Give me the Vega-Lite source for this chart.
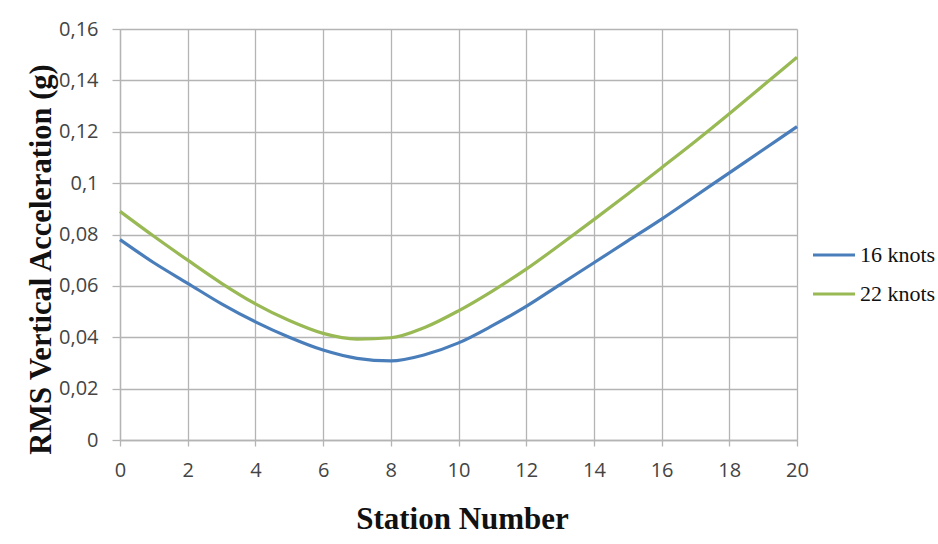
{
  "$schema": "https://vega.github.io/schema/vega-lite/v6.json",
  "autosize": {"type": "none"},
  "width": 677,
  "height": 411,
  "padding": {"left": 120, "top": 29, "right": 141, "bottom": 104},
  "background": "white",
  "config": {
    "view": {"stroke": null},
    "axis": {
      "gridColor": "#b4b4b4",
      "gridWidth": 1.3,
      "domainColor": "#b4b4b4",
      "domainWidth": 1.3,
      "tickColor": "#b4b4b4",
      "tickWidth": 1.3,
      "labelFont": "Open Sans",
      "labelFontSize": 20,
      "labelColor": "#444444",
      "titleFont": "Liberation Serif",
      "titleFontSize": 31,
      "titleFontWeight": "bold",
      "titleColor": "#111111"
    }
  },
  "data": {
    "values": [
      {"station": 0, "series": "16 knots", "rms": 0.078},
      {"station": 1, "series": "16 knots", "rms": 0.069},
      {"station": 2, "series": "16 knots", "rms": 0.061},
      {"station": 3, "series": "16 knots", "rms": 0.053},
      {"station": 4, "series": "16 knots", "rms": 0.046},
      {"station": 5, "series": "16 knots", "rms": 0.040},
      {"station": 6, "series": "16 knots", "rms": 0.035},
      {"station": 7, "series": "16 knots", "rms": 0.0318},
      {"station": 8, "series": "16 knots", "rms": 0.0308},
      {"station": 9, "series": "16 knots", "rms": 0.0332},
      {"station": 10, "series": "16 knots", "rms": 0.0378},
      {"station": 11, "series": "16 knots", "rms": 0.0445},
      {"station": 12, "series": "16 knots", "rms": 0.052},
      {"station": 13, "series": "16 knots", "rms": 0.0605},
      {"station": 14, "series": "16 knots", "rms": 0.069},
      {"station": 15, "series": "16 knots", "rms": 0.0775},
      {"station": 16, "series": "16 knots", "rms": 0.086},
      {"station": 17, "series": "16 knots", "rms": 0.095},
      {"station": 18, "series": "16 knots", "rms": 0.104},
      {"station": 19, "series": "16 knots", "rms": 0.113},
      {"station": 20, "series": "16 knots", "rms": 0.122},
      {"station": 0, "series": "22 knots", "rms": 0.089},
      {"station": 1, "series": "22 knots", "rms": 0.0793},
      {"station": 2, "series": "22 knots", "rms": 0.070},
      {"station": 3, "series": "22 knots", "rms": 0.061},
      {"station": 4, "series": "22 knots", "rms": 0.053},
      {"station": 5, "series": "22 knots", "rms": 0.0465},
      {"station": 6, "series": "22 knots", "rms": 0.0415},
      {"station": 7, "series": "22 knots", "rms": 0.0393},
      {"station": 8, "series": "22 knots", "rms": 0.0398},
      {"station": 9, "series": "22 knots", "rms": 0.0438},
      {"station": 10, "series": "22 knots", "rms": 0.0503},
      {"station": 11, "series": "22 knots", "rms": 0.058},
      {"station": 12, "series": "22 knots", "rms": 0.0665},
      {"station": 13, "series": "22 knots", "rms": 0.076},
      {"station": 14, "series": "22 knots", "rms": 0.0858},
      {"station": 15, "series": "22 knots", "rms": 0.0958},
      {"station": 16, "series": "22 knots", "rms": 0.106},
      {"station": 17, "series": "22 knots", "rms": 0.1163},
      {"station": 18, "series": "22 knots", "rms": 0.127},
      {"station": 19, "series": "22 knots", "rms": 0.138},
      {"station": 20, "series": "22 knots", "rms": 0.149}
    ]
  },
  "mark": {"type": "line", "interpolate": "monotone", "strokeWidth": 3.2},
  "encoding": {
    "x": {
      "field": "station",
      "type": "quantitative",
      "scale": {"domain": [0, 20], "nice": false},
      "axis": {
        "title": "Station Number",
        "values": [0, 2, 4, 6, 8, 10, 12, 14, 16, 18, 20],
        "labelFlush": false,
        "tickSize": 6,
        "labelPadding": 14,
        "titleX": 342,
        "titleY": 88,
        "titleBaseline": "alphabetic",
        "titleAlign": "center"
      }
    },
    "y": {
      "field": "rms",
      "type": "quantitative",
      "scale": {"domain": [0, 0.16], "nice": false},
      "axis": {
        "title": "RMS Vertical Acceleration (g)",
        "values": [0, 0.02, 0.04, 0.06, 0.08, 0.1, 0.12, 0.14, 0.16],
        "labelExpr": "replace(format(datum.value, '~g'), '.', ',')",
        "labelFlush": false,
        "tickSize": 8,
        "labelPadding": 14,
        "titleAngle": 270,
        "titleX": -70,
        "titleY": 230,
        "titleBaseline": "alphabetic",
        "titleAlign": "center",
        "titleFontSize": 30.5
      }
    },
    "color": {
      "field": "series",
      "type": "nominal",
      "scale": {"domain": ["16 knots", "22 knots"], "range": ["#4a7ebb", "#98b954"]},
      "legend": {
        "title": null,
        "orient": "none",
        "legendX": 691,
        "legendY": 203,
        "symbolType": "stroke",
        "symbolSize": 1764,
        "symbolStrokeWidth": 3.2,
        "rowPadding": 5,
        "labelFont": "Liberation Serif",
        "labelFontSize": 22,
        "labelColor": "#111111",
        "labelOffset": 3,
        "labelLimit": 200
      }
    }
  }
}
